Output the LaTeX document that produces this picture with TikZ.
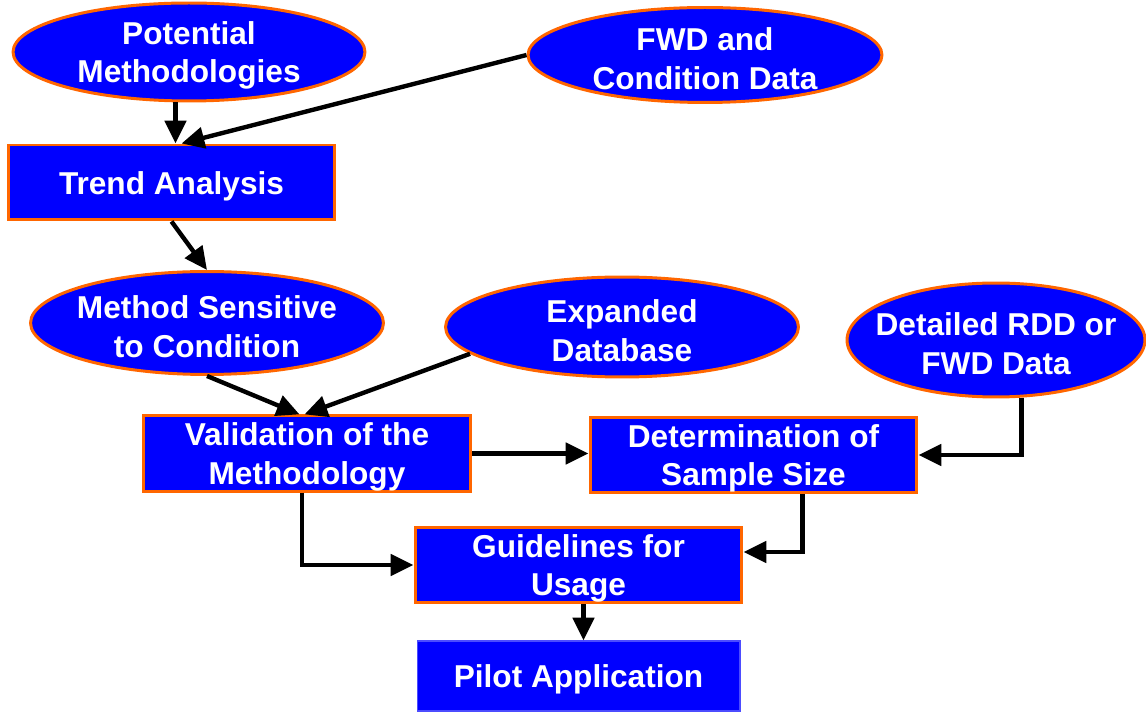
\documentclass[tikz,border=0pt]{standalone}
\usepackage{fontspec}
\setmainfont{Liberation Sans}
\usetikzlibrary{shapes.geometric,arrows.meta}
\definecolor{orng}{RGB}{255,102,0}
\newcommand{\lift}{\rule{0pt}{17pt}}

\begin{document}
\begin{tikzpicture}[x=0.02cm,y=-0.02cm,
  txt/.style={text=white,font=\fontsize{18}{22}\selectfont\bfseries,align=center},
  oval/.style={ellipse,txt,fill=blue,draw=orng,line width=1.7pt,inner sep=-10pt},
  box/.style={rectangle,txt,fill=blue,draw=orng,line width=1.7pt,inner sep=0pt,minimum width=6.54cm,minimum height=1.5cm},
  arr/.style={-{Triangle[length=13pt,width=12pt]},line width=2.5pt}]
\useasboundingbox (0,0) rectangle (1146,712);
\node[oval,minimum width=7.04cm,minimum height=1.96cm] (pot) at (189,52) {\lift Potential\\Methodologies};
\node[oval,minimum width=7.08cm,minimum height=1.9cm] (fwd) at (705,55) {\lift FWD and\\Condition Data};
\node[box] (trend) at (171.5,182.5) {\lift Trend Analysis};
\node[oval,minimum width=7.06cm,minimum height=2.06cm] (sens) at (207,323) {\lift Method Sensitive\\to Condition};
\node[oval,minimum width=7.06cm,minimum height=2cm] (exp) at (622,327) {\lift Expanded\\Database};
\node[oval,minimum width=5.96cm,minimum height=2.28cm] (rdd) at (996,340) {\lift Detailed RDD or\\FWD Data};
\node[box,minimum width=6.56cm] (valid) at (307,453.5) {\lift Validation of the\\Methodology};
\node[box] (det) at (753.5,455) {\lift Determination of\\Sample Size};
\node[box,minimum height=1.52cm] (guide) at (578.5,565) {\lift Guidelines for\\Usage};
\node[box,draw=blue!70!white,line width=0.6pt,minimum width=6.46cm,minimum height=1.4cm] (pilot) at (578.5,676) {\lift Pilot Application};
\draw[arr] ([xshift=0.08cm]pot.south -| trend.north) -- ([xshift=0.08cm]trend.north);
\draw[arr] (fwd.west) -- ([xshift=0.2cm]trend.north);
\draw[arr] (trend.south) -- (sens.north);
\draw[arr] (sens.south) -- ([xshift=-0.15cm]valid.north);
\draw[arr] (exp.190) -- ([xshift=-0.05cm]valid.north);
\draw[arr] (valid.east) -- (valid.east -| det.west);
\draw[arr] (rdd.-66) |- (det.east);
\draw[arr] ([xshift=-0.1cm]valid.south) |- (guide.west);
\draw[arr] ([xshift=0.98cm]det.south) |- ([yshift=0.26cm]guide.east);
\draw[arr] ([xshift=0.1cm]guide.south) -- ([xshift=0.1cm]pilot.north);
\end{tikzpicture}
\end{document}
